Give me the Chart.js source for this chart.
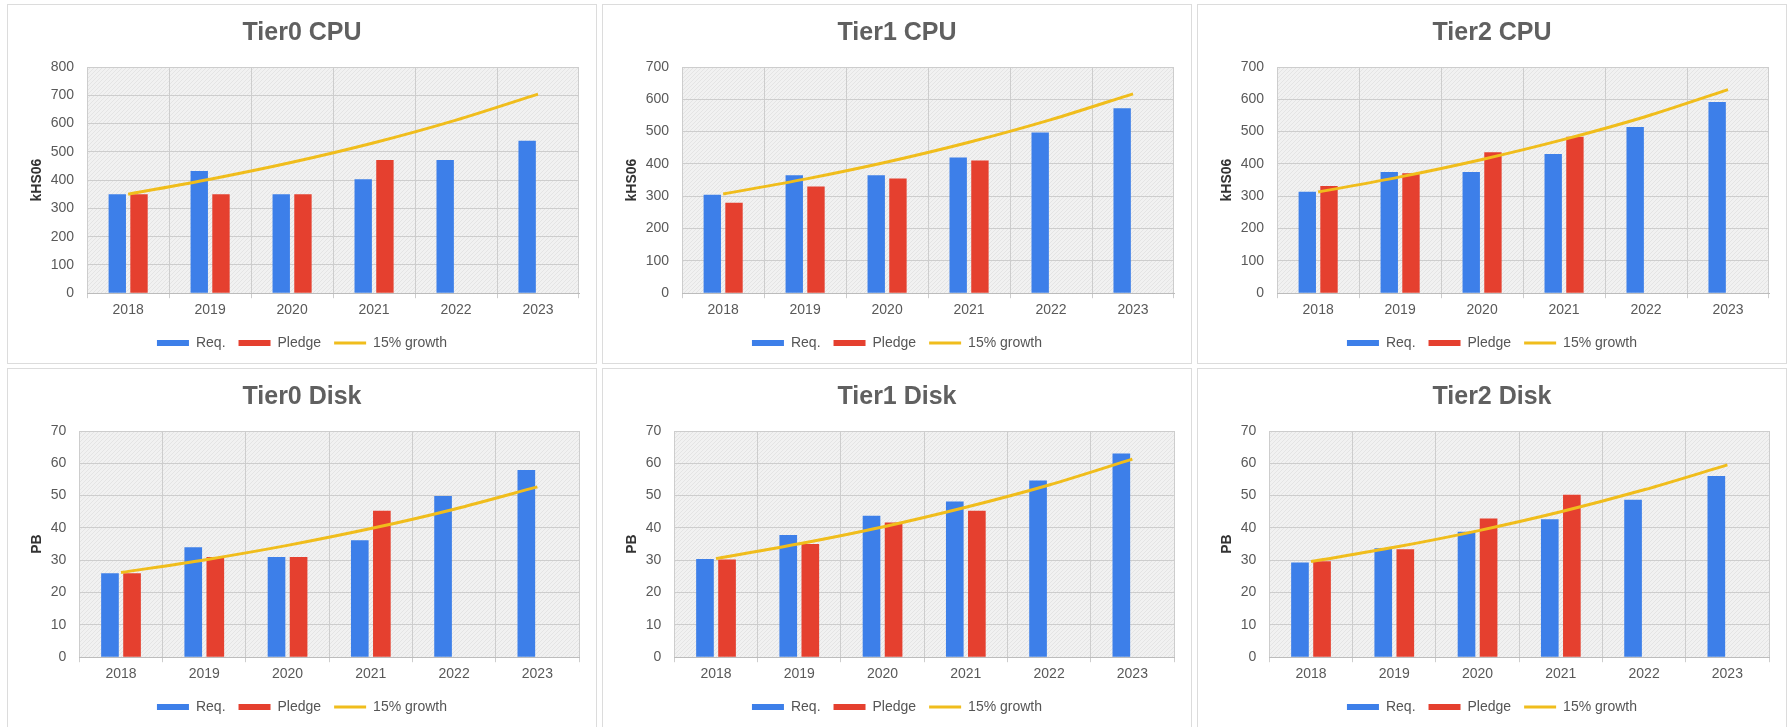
<!DOCTYPE html>
<html>
<head>
<meta charset="utf-8">
<title>Tier CPU and Disk</title>
<script src="https://cdn.jsdelivr.net/npm/chart.js@4.4.1/dist/chart.umd.min.js"></script>
<style>
  html, body { margin: 0; padding: 0; background: #ffffff; overflow: hidden; }
  body { width: 1791px; height: 727px; position: relative; }
  .panel { position: absolute; width: 590px; height: 360px; box-sizing: border-box;
           border: 1px solid #dcdcdc; background: #ffffff; }
  .panel canvas { display: block; position: absolute; left: 0; top: 0; }
</style>
</head>
<body>
<div class="panel" style="left:7px;top:4px"><canvas id="c0" width="588" height="360"></canvas></div>
<div class="panel" style="left:602px;top:4px"><canvas id="c1" width="588" height="360"></canvas></div>
<div class="panel" style="left:1197px;top:4px"><canvas id="c2" width="588" height="360"></canvas></div>
<div class="panel" style="left:7px;top:368px"><canvas id="c3" width="588" height="360"></canvas></div>
<div class="panel" style="left:602px;top:368px"><canvas id="c4" width="588" height="360"></canvas></div>
<div class="panel" style="left:1197px;top:368px"><canvas id="c5" width="588" height="360"></canvas></div>
<script>
// Years on the category axis
const years = ['2018', '2019', '2020', '2021', '2022', '2023'];
const seriesNames = ['Req.', 'Pledge', '15% growth'];

// CPU (kHS06)
const tier0CpuReq    = [350, 432, 350, 403, 471, 539];
const tier0CpuPledge = [350, 350, 350, 471, null, null];
const tier0CpuGrowth = [350, 403, 463, 532, 612, 704];

const tier1CpuReq    = [305, 365, 365, 420, 497, 572];
const tier1CpuPledge = [280, 330, 355, 411, null, null];
const tier1CpuGrowth = [307, 353, 406, 467, 537, 617];

const tier2CpuReq    = [314, 375, 375, 431, 514, 592];
const tier2CpuPledge = [332, 371, 436, 484, null, null];
const tier2CpuGrowth = [313, 360, 414, 476, 547, 630];

// Disk (PB)
const tier0DiskReq    = [26.0, 34.0, 31.0, 36.2, 49.9, 57.9];
const tier0DiskPledge = [26.0, 31.0, 31.0, 45.3, null, null];
const tier0DiskGrowth = [26.2, 30.1, 34.6, 39.8, 45.8, 52.7];

const tier1DiskReq    = [30.4, 37.8, 43.8, 48.2, 54.7, 63.0];
const tier1DiskPledge = [30.2, 35.0, 41.7, 45.3, null, null];
const tier1DiskGrowth = [30.5, 35.1, 40.3, 46.4, 53.3, 61.3];

const tier2DiskReq    = [29.3, 33.7, 38.8, 42.7, 48.7, 56.1];
const tier2DiskPledge = [29.7, 33.4, 42.9, 50.3, null, null];
const tier2DiskGrowth = [29.6, 34.0, 39.1, 45.0, 51.8, 59.5];

// Axis ticks
const cpuTicksTier0 = { max: 800, step: 100 };
const cpuTicksTier12 = { max: 700, step: 100 };
const diskTicks = { max: 70, step: 10 };

const FONT = 'Arial, "Liberation Sans", sans-serif';
Chart.defaults.font.family = FONT;

const BLUE = '#3d7fe9';
const RED = '#e5402f';
const GOLD = '#f0bd1c';
const Y_TICK_PAD = 13;

// Fine light-grey texture behind the plot area
function makePattern() {
  const c = document.createElement('canvas');
  c.width = 4; c.height = 4;
  const g = c.getContext('2d');
  g.fillStyle = '#f1f1f1';
  g.fillRect(0, 0, 4, 4);
  g.fillStyle = '#e4e4e4';
  g.fillRect(0, 0, 1, 1);
  g.fillRect(2, 2, 1, 1);
  g.fillRect(1, 3, 1, 1);
  g.fillRect(3, 1, 1, 1);
  return g.createPattern(c, 'repeat');
}

const plotBackground = {
  id: 'plotBackground',
  beforeDraw(chart) {
    const { ctx, chartArea: a } = chart;
    if (!chart.$pattern) chart.$pattern = makePattern();
    ctx.save();
    ctx.fillStyle = chart.$pattern;
    ctx.fillRect(a.left, a.top, a.right - a.left, a.bottom - a.top);
    ctx.restore();
  }
};

function legendLabels(chart) {
  const items = Chart.defaults.plugins.legend.labels.generateLabels(chart);
  items.sort((a, b) => a.datasetIndex - b.datasetIndex);
  items.forEach(it => {
    const ds = chart.data.datasets[it.datasetIndex];
    if (ds.type === 'line') {
      it.pointStyle = 'line';
      it.strokeStyle = ds.borderColor;
      it.lineWidth = 3;
    } else {
      it.pointStyle = 'rect';
      it.fillStyle = ds.backgroundColor;
      it.lineWidth = 0;
    }
  });
  return items;
}

function makeChart(id, title, unit, ticks, req, pledge, growth) {
  new Chart(document.getElementById(id), {
    type: 'bar',
    data: {
      labels: years,
      datasets: [
        { type: 'bar', label: seriesNames[0], data: req, backgroundColor: BLUE, borderWidth: 0,
          categoryPercentage: 0.53, barPercentage: 0.8, order: 1 },
        { type: 'bar', label: seriesNames[1], data: pledge, backgroundColor: RED, borderWidth: 0,
          categoryPercentage: 0.53, barPercentage: 0.8, order: 1 },
        { type: 'line', label: seriesNames[2], data: growth, borderColor: GOLD, backgroundColor: GOLD,
          borderWidth: 3, pointRadius: 0, tension: 0.3, fill: false, order: 0 }
      ]
    },
    options: {
      responsive: false,
      animation: false,
      events: [],
      layout: { padding: { left: 17, right: 17, top: 0, bottom: 5 } },
      plugins: {
        title: {
          display: true, text: title, color: '#606060',
          font: { size: 25, weight: 'bold', family: FONT },
          padding: { top: 13, bottom: 19 }
        },
        legend: {
          position: 'bottom',
          labels: {
            usePointStyle: true, pointStyleWidth: 32, boxHeight: 6, padding: 13,
            color: '#555555', font: { size: 14, family: FONT },
            generateLabels: legendLabels
          }
        },
        tooltip: { enabled: false }
      },
      scales: {
        x: {
          grid: { color: '#cdcdcd', offset: true, drawTicks: true, tickLength: 5 },
          border: { color: '#bcbcbc' },
          ticks: { color: '#595959', font: { size: 14 }, padding: 4, maxRotation: 0 }
        },
        y: {
          min: 0, max: ticks.max,
          ticks: { stepSize: ticks.step, color: '#595959', font: { size: 14 }, padding: Y_TICK_PAD },
          grid: { color: '#cdcdcd', drawTicks: false },
          border: { display: false },
          title: {
            display: true, text: unit, color: '#333333',
            font: { size: 14, weight: 'bold' }, padding: { top: 4, bottom: 5 }
          },
          // keep a single tick gap between the labels and the plot area
          afterFit(scale) { scale.width -= Y_TICK_PAD; }
        }
      }
    },
    plugins: [plotBackground]
  });
}

makeChart('c0', 'Tier0 CPU', 'kHS06', cpuTicksTier0, tier0CpuReq, tier0CpuPledge, tier0CpuGrowth);
makeChart('c1', 'Tier1 CPU', 'kHS06', cpuTicksTier12, tier1CpuReq, tier1CpuPledge, tier1CpuGrowth);
makeChart('c2', 'Tier2 CPU', 'kHS06', cpuTicksTier12, tier2CpuReq, tier2CpuPledge, tier2CpuGrowth);
makeChart('c3', 'Tier0 Disk', 'PB', diskTicks, tier0DiskReq, tier0DiskPledge, tier0DiskGrowth);
makeChart('c4', 'Tier1 Disk', 'PB', diskTicks, tier1DiskReq, tier1DiskPledge, tier1DiskGrowth);
makeChart('c5', 'Tier2 Disk', 'PB', diskTicks, tier2DiskReq, tier2DiskPledge, tier2DiskGrowth);
</script>
</body>
</html>
